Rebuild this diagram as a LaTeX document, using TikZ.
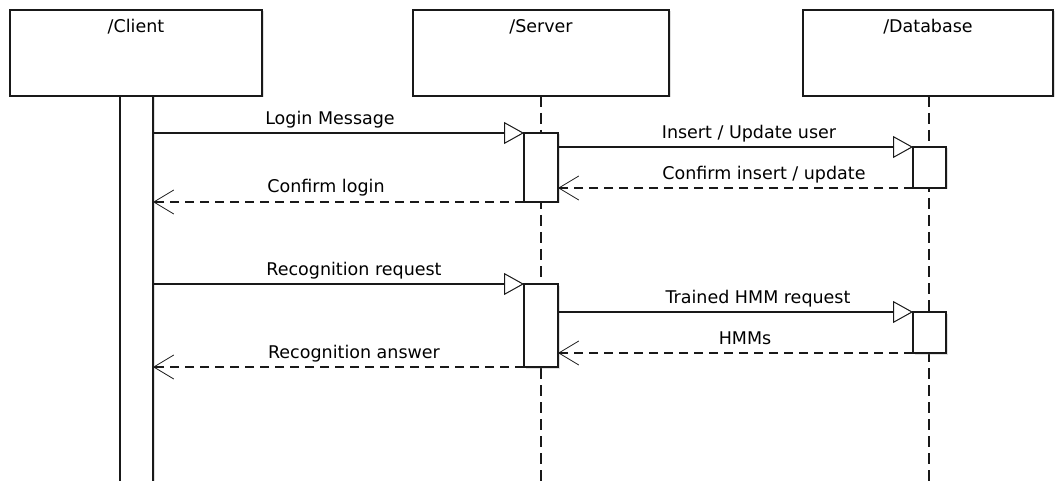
\documentclass[tikz,border=0pt]{standalone}
\usepackage{fontspec}
\setmainfont{DejaVu Sans}
\usetikzlibrary{arrows.meta,shadows}

\tikzset{
  objbox/.style={draw=black!90, line width=1.4pt, fill=white, inner sep=0pt, outer sep=0pt,
    drop shadow={shadow xshift=1.5pt, shadow yshift=-1.5pt, opacity=0.25}},
  actbox/.style={draw=black!90, line width=1.3pt, fill=white, inner sep=0pt, outer sep=0pt,
    drop shadow={shadow xshift=1.5pt, shadow yshift=-1.5pt, opacity=0.25}},
  title/.style={anchor=base, inner sep=0pt, font=\fontsize{17.5}{20}\selectfont, text=black},
  msglabel/.style={anchor=base, inner sep=0pt, font=\fontsize{17.5}{20}\selectfont, text=black},
  lifeline/.style={draw=black!90, line width=1.5pt, dash pattern=on 11pt off 6pt},
  callmsg/.style={draw=black!90, line width=1.1pt,
    -{Triangle[open, length=20pt, width=22pt, line width=1pt, fill=white]}},
  replymsg/.style={draw=black!90, line width=1.1pt, dash pattern=on 9pt off 6pt,
    -{Straight Barb[length=20pt, width=24pt, line width=0.8pt]}},
}

\begin{document}
\begin{tikzpicture}[x=1pt, y=-1pt]
  \useasboundingbox (0,0) rectangle (1055,481);
  \clip (0,0) rectangle (1055,481);

  % object boxes
  \node[objbox, minimum width=252pt, minimum height=86pt] (client) at (136,53) {};
  \node[objbox, minimum width=256pt, minimum height=86pt] (server) at (541,53) {};
  \node[objbox, minimum width=250pt, minimum height=86pt] (database) at (928,53) {};
  \node[title] (clientname) at (136,33) {/Client};
  \node[title] (servername) at (541,33) {/Server};
  \node[title] (databasename) at (928,33) {/Database};

  % lifelines
  \coordinate (serverend) at (541,490);
  \coordinate (databaseend) at (929,490);
  \draw[lifeline] (server.south) -- (serverend);
  \draw[lifeline] (database.south -| databaseend) -- (databaseend);

  % activation bars
  \node[actbox, minimum width=33pt, minimum height=400pt] (clientbar) at (136.5,296) {};
  \node[actbox, minimum width=34pt, minimum height=69pt] (srvact1) at (541,167.5) {};
  \node[actbox, minimum width=34pt, minimum height=83pt] (srvact2) at (541,325.5) {};
  \node[actbox, minimum width=33pt, minimum height=41pt] (dbact1) at (929.5,167.5) {};
  \node[actbox, minimum width=33pt, minimum height=41pt] (dbact2) at (929.5,332.5) {};

  % login exchange
  \draw[callmsg] (clientbar.east |- srvact1.north west) -- (srvact1.north west);
  \draw[callmsg] (srvact1.east |- dbact1.north west) -- (dbact1.north west);
  \draw[replymsg] (dbact1.south west) -- (srvact1.east |- dbact1.south west);
  \draw[replymsg] (srvact1.south west) -- (clientbar.east |- srvact1.south west);

  % recognition exchange
  \draw[callmsg] (clientbar.east |- srvact2.north west) -- (srvact2.north west);
  \draw[callmsg] (srvact2.east |- dbact2.north west) -- (dbact2.north west);
  \draw[replymsg] (dbact2.south west) -- (srvact2.east |- dbact2.south west);
  \draw[replymsg] (srvact2.south west) -- (clientbar.east |- srvact2.south west);

  % message labels
  \node[msglabel] (lbllogin) at (330,125) {Login Message};
  \node[msglabel] (lblinsert) at (749,139) {Insert / Update user};
  \node[msglabel] (lblconfins) at (764,180) {Confirm insert / update};
  \node[msglabel] (lblconflogin) at (326,193) {Confirm login};
  \node[msglabel] (lblrecreq) at (354,276) {Recognition request};
  \node[msglabel] (lblhmmreq) at (758,303) {Trained HMM request};
  \node[msglabel] (lblhmms) at (745,344) {HMMs};
  \node[msglabel] (lblrecans) at (354,358) {Recognition answer};
\end{tikzpicture}
\end{document}
